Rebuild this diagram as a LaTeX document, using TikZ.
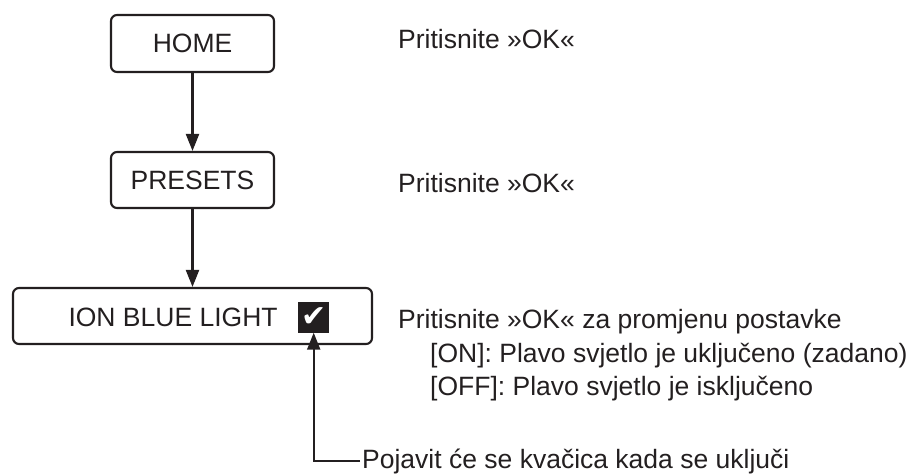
\documentclass[tikz,border=0pt]{standalone}
\usepackage{fontspec}
\setmainfont{Liberation Sans}
\newfontfamily\symfont{DejaVu Sans}
\usetikzlibrary{arrows.meta}
\definecolor{ink}{HTML}{231F20}
\begin{document}
\begin{tikzpicture}[x=1pt,y=-1pt,
  box/.style={draw=ink, line width=2.1pt, rounded corners=6pt, inner sep=0pt, text=ink, font=\fontsize{26.5}{33.5}\selectfont},
  lbl/.style={inner sep=0pt, anchor=base west, text=ink, font=\fontsize{26.5}{33.5}\selectfont},
  arr/.style={draw=ink, line width=2.1pt, -{Triangle[length=17pt,width=13pt]}},
]
\useasboundingbox (0,0) rectangle (917,475);
% boxes
\node[box, minimum width=163pt, minimum height=57pt] (home) at (192.5,43.5) {HOME};
\node[box, minimum width=163pt, minimum height=56pt] (presets) at (192.5,180) {PRESETS};
\node[box, minimum width=359pt, minimum height=56pt] (ion) at (192.5,316) {};
\node[lbl] (ionl) at (68.3,326) {ION BLUE LIGHT};
\node[fill=ink, minimum size=31pt, inner sep=0pt] (chk) at (313.7,317) {\color{white}\symfont\fontsize{30}{30}\selectfont ✔};
% connectors
\draw[arr] (home.south) -- (presets.north);
\draw[arr] (presets.south) -- (ion.north);
% right texts
\node[lbl] (t1) at (398,48) {Pritisnite »OK«};
\node[lbl] (t2) at (398,192) {Pritisnite »OK«};
\node[lbl] (t3) at (398,328) {Pritisnite »OK« za promjenu postavke};
\node[lbl] (t4) at (430,362) {[ON]: Plavo svjetlo je uključeno (zadano)};
\node[lbl] (t5) at (430,395) {[OFF]: Plavo svjetlo je isključeno};
% bottom note
\node[lbl] (pj) at (362,468) {Pojavit će se kvačica kada se uključi};
\draw[arr] ([xshift=-2pt]pj.west) -| (chk.south);
\end{tikzpicture}
\end{document}
